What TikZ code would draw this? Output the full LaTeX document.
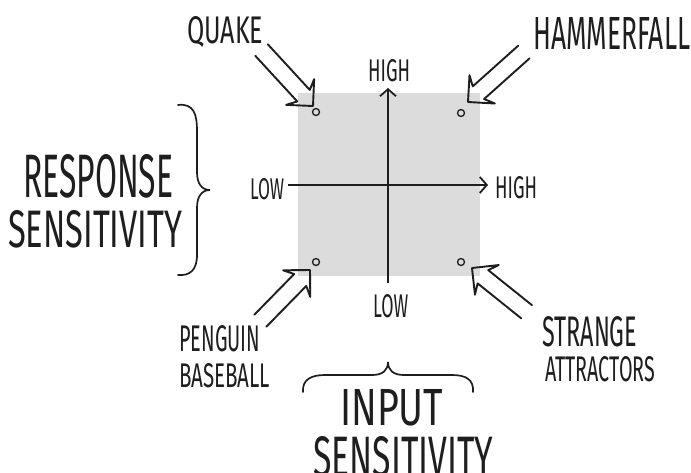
\documentclass[tikz,border=0pt]{standalone}
\usepackage{fontspec}
\usepackage{graphicx}
\setmainfont{Fira Sans}
\usetikzlibrary{arrows.meta}
\newcommand\hw[3]{\resizebox{#1pt}{#2pt}{#3}}
\definecolor{ink}{HTML}{1E1E1E}
\definecolor{panel}{HTML}{DCDCDC}
\begin{document}
\begin{tikzpicture}[x=1pt,y=-1pt,
  lbl/.style={inner sep=0pt, anchor=base west, text=ink},
  axisline/.style={draw=ink, line width=1.8pt, -{Straight Barb[length=7pt,width=16pt,line width=1.8pt]}},
  arrowline/.style={draw=ink, line width=1.9pt, line join=round, line cap=round},
  bracestyle/.style={draw=ink, line width=1.7pt, line cap=round},
  dot/.style={circle, draw=ink, line width=1.3pt, minimum size=7pt, inner sep=0pt},
  hollow/.pic={\draw[arrowline] (-#1,8.5) -- (-14,8.5) -- (-19,19) -- (0,0) -- (-19,-19) -- (-14,-8.5) -- (-#1,-8.5);}
]
\path[use as bounding box] (0,0) rectangle (691,472);
\clip (0,0) rectangle (691,472);
\fill[white] (0,0) rectangle (691,472);
\fill[panel] (298,93) rectangle (480,276);

% axes
\coordinate (xl) at (288,185);
\coordinate (xr) at (488,185);
\coordinate (yb) at (388,283);
\coordinate (yt) at (388,88);
\draw[axisline] (xl) -- (xr);
\draw[axisline] (yb) -- (yt);

\node[lbl] (lowl) at (250,199) {\hw{34}{21}{LOW}};
\node[lbl] (highr) at (495,198) {\hw{42}{22}{HIGH}};
\node[lbl] (hight) at (368,81) {\hw{42}{22}{HIGH}};
\node[lbl] (lowb) at (373,317) {\hw{35}{23}{LOW}};

% corner dots
\node[dot] (d1) at (316,112) {};
\node[dot] (d2) at (461,113) {};
\node[dot] (d3) at (316,262) {};
\node[dot] (d4) at (461,262) {};

% hollow arrows
\pic[rotate=-47.4] at (313,106) {hollow=76};
\pic[rotate=-138.2] at (468,102) {hollow=75};
\pic[rotate=45.6] at (310,270) {hollow=71};
\pic[rotate=141.3] at (472,268) {hollow=70};

% labels
\node[lbl] (quake) at (187,43) {\hw{76}{27}{QUAKE}};
\node[lbl] (hammer) at (533,49) {\hw{157}{32}{HAMMERFALL}};
\node[lbl] (peng) at (179,351) {\hw{81}{26}{PENGUIN}};
\node[lbl] (base) at (179,387) {\hw{91}{24}{BASEBALL}};
\node[lbl] (strange) at (542,346) {\hw{95}{30}{STRANGE}};
\node[lbl] (attr) at (545,381) {\hw{110}{25}{ATTRACTORS}};
\node[lbl] (resp) at (23,197) {\hw{150}{43}{RESPONSE}};
\node[lbl] (rsens) at (8,247) {\hw{174}{37}{SENSITIVITY}};
\node[lbl] (input) at (340,425) {\hw{103}{36}{INPUT}};
\node[lbl] (isens) at (313,476) {\hw{180}{40}{SENSITIVITY}};

% braces
\draw[bracestyle] (178,105) .. controls (194,103) and (197,115) .. (197,130) -- (197,172)
  .. controls (197,184) and (202,190) .. (210,190)
  .. controls (202,190) and (197,196) .. (197,208) -- (197,255)
  .. controls (197,270) and (190,276) .. (178,275);
\draw[bracestyle] (303,392) .. controls (302,379) and (312,375) .. (325,375) -- (372,375)
  .. controls (383,375) and (388,370) .. (388,362)
  .. controls (388,370) and (393,375) .. (404,375) -- (452,375)
  .. controls (465,375) and (474,379) .. (473,392);
\end{tikzpicture}
\end{document}
